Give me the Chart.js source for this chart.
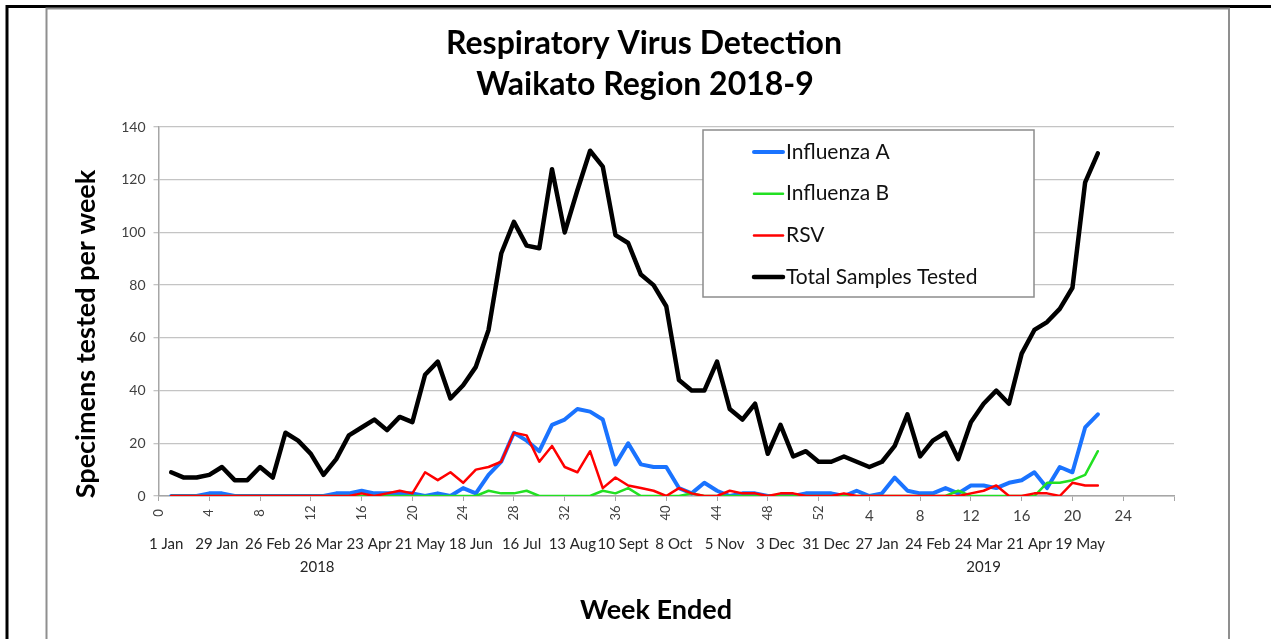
<!DOCTYPE html>
<html>
<head>
<meta charset="utf-8">
<script src="https://cdn.jsdelivr.net/npm/chart.js@4.4.1/dist/chart.umd.min.js"></script>
<style>
  html, body { margin: 0; padding: 0; background: #fff; }
  #chart { display: block; }
</style>
</head>
<body>
<canvas id="chart" width="1271" height="639"></canvas>
<script>
// weekly counts, week 1 2018 .. week 22 2019
const fluA = [0, 0, 0, 1, 1, 0, 0, 0, 0, 0, 0, 0, 0, 1, 1, 2, 1, 1, 1, 1,
  0, 1, 0, 3, 1, 8, 13, 24, 21, 17, 27, 29, 33, 32, 29, 12, 20, 12, 11, 11,
  3, 1, 5, 2, 0, 1, 1, 0, 0, 0, 1, 1,
  1, 0, 2, 0, 1, 7, 2, 1, 1, 3, 1, 4, 4, 3, 5, 6, 9, 3, 11, 9, 26, 31];
const fluB = [0, 0, 0, 0, 0, 0, 0, 0, 0, 0, 0, 0, 0, 0, 0, 0, 0, 0, 0, 0,
  0, 0, 0, 0, 0, 2, 1, 1, 2, 0, 0, 0, 0, 0, 2, 1, 3, 0, 0, 0,
  0, 1, 0, 0, 0, 0, 0, 0, 0, 0, 0, 0,
  0, 0, 0, 0, 0, 0, 0, 0, 0, 0, 2, 0, 0, 0, 0, 0, 0, 5, 5, 6, 8, 17];
const rsv = [0, 0, 0, 0, 0, 0, 0, 0, 0, 0, 0, 0, 0, 0, 0, 1, 0, 1, 2, 1,
  9, 6, 9, 5, 10, 11, 13, 24, 23, 13, 19, 11, 9, 17, 3, 7, 4, 3, 2, 0,
  3, 1, 0, 0, 2, 1, 1, 0, 1, 1, 0, 0,
  0, 1, 0, 0, 0, 0, 0, 0, 0, 0, 0, 1, 2, 4, 0, 0, 1, 1, 0, 5, 4, 4];
const total = [9, 7, 7, 8, 11, 6, 6, 11, 7, 24, 21, 16, 8, 14, 23, 26, 29, 25, 30, 28,
  46, 51, 37, 42, 49, 63, 92, 104, 95, 94, 124, 100, 116, 131, 125, 99, 96, 84, 80, 72,
  44, 40, 40, 51, 33, 29, 35, 16, 27, 15, 17, 13,
  13, 15, 13, 11, 13, 19, 31, 15, 21, 24, 14, 28, 35, 40, 35, 54, 63, 66, 71, 79, 119, 130];

const weeks = total.map((_, i) => i + 1);   // running week number
const weeksIn2018 = 52;
const dateLabels = ['1 Jan', '29 Jan', '26 Feb', '26 Mar', '23 Apr', '21 May', '18 Jun', '16 Jul',
  '13 Aug', '10 Sept', '8 Oct', '5 Nov', '3 Dec', '31 Dec', '27 Jan', '24 Feb', '24 Mar',
  '21 Apr', '19 May'];
const yearLabels = ['2018', '2019'];
const yearWeeks = [12.5, 65];

const FONT = 'Lato, Carlito, "DejaVu Sans", sans-serif';

function pts(vals) {
  return vals.map((v, i) => ({ x: weeks[i], y: v }));
}

function txt(ctx, s, x, y, font, color, align, rot) {
  ctx.save();
  ctx.font = font;
  ctx.fillStyle = color;
  ctx.textAlign = align || 'center';
  ctx.textBaseline = 'middle';
  ctx.translate(x, y);
  if (rot) ctx.rotate(rot);
  ctx.fillText(s, 0, 0);
  ctx.restore();
}

const decor = {
  id: 'decor',
  beforeDraw(chart) {
    const ctx = chart.ctx;
    ctx.save();
    ctx.fillStyle = '#fff';
    ctx.fillRect(0, 0, chart.width, chart.height);
    // outer frame
    ctx.strokeStyle = '#000';
    ctx.lineWidth = 3;
    ctx.beginPath();
    ctx.moveTo(7, 639); ctx.lineTo(7, 6.5); ctx.lineTo(1271, 6.5);
    ctx.stroke();
    // chart border
    ctx.strokeStyle = '#8f8f8f';
    ctx.lineWidth = 2;
    ctx.beginPath();
    ctx.moveTo(46.5, 639); ctx.lineTo(46.5, 8.5); ctx.lineTo(1229, 8.5); ctx.lineTo(1229, 639);
    ctx.stroke();
    ctx.restore();
  },
  afterDraw(chart) {
    const ctx = chart.ctx;
    const xs = chart.scales.x;
    const area = chart.chartArea;

    txt(ctx, 'Respiratory Virus Detection', 644, 44, 'bold 32px ' + FONT, '#000');
    txt(ctx, 'Waikato Region 2018-9', 645, 85, 'bold 32px ' + FONT, '#000');
    txt(ctx, 'Specimens tested per week', 86, 334, 'bold 27px ' + FONT, '#000', 'center', -Math.PI / 2);
    txt(ctx, 'Week Ended', 656, 610, 'bold 27px ' + FONT, '#000');

    // week numbers: 2018 ones rotated, 2019 ones flat
    xs.ticks.forEach(t => {
      if (t.value > 76) return;
      const px = xs.getPixelForValue(t.value);
      if (t.value <= weeksIn2018) {
        txt(ctx, String(t.value), px, 513, '13px ' + FONT, '#404040', 'center', -Math.PI / 2);
      } else {
        txt(ctx, String(t.value - weeksIn2018), px, 516, '15px ' + FONT, '#404040');
      }
    });
    dateLabels.forEach((d, i) => {
      txt(ctx, d, xs.getPixelForValue(i * 4 + 0.6), 544, '15px ' + FONT, '#262626');
    });
    yearLabels.forEach((y, i) => {
      txt(ctx, y, xs.getPixelForValue(yearWeeks[i]), 567, '15px ' + FONT, '#262626');
    });

    // legend
    ctx.save();
    ctx.fillStyle = '#fff';
    ctx.fillRect(703, 130, 331, 167);
    ctx.strokeStyle = '#8c8c8c';
    ctx.lineWidth = 1.5;
    ctx.strokeRect(703, 130, 331, 167);
    chart.data.datasets.forEach((ds, i) => {
      const y = 152 + i * 41.7;
      ctx.strokeStyle = ds.borderColor;
      ctx.lineWidth = ds.borderWidth;
      ctx.lineCap = 'round';
      ctx.beginPath();
      ctx.moveTo(754, y); ctx.lineTo(783, y);
      ctx.stroke();
      txt(ctx, ds.label, 786, y, '21px ' + FONT, '#111', 'left');
    });
    ctx.restore();
  }
};

const lineDs = (label, vals, color, width, order) => ({
  label: label,
  data: pts(vals),
  borderColor: color,
  borderWidth: width,
  pointRadius: 0,
  tension: 0,
  borderJoinStyle: 'round',
  borderCapStyle: 'round',
  order: order
});

new Chart(document.getElementById('chart').getContext('2d'), {
  type: 'line',
  data: {
    datasets: [
      lineDs('Influenza A', fluA, '#1a73ff', 4, 3),
      lineDs('Influenza B', fluB, '#22e022', 2.5, 2),
      lineDs('RSV', rsv, '#ff0000', 2.5, 1),
      lineDs('Total Samples Tested', total, '#000000', 4.5, 0)
    ]
  },
  options: {
    responsive: false,
    devicePixelRatio: 1,
    animation: false,
    layout: { padding: { top: 127, right: 97, left: 0, bottom: 0 } },
    plugins: { legend: { display: false }, tooltip: { enabled: false } },
    scales: {
      x: {
        type: 'linear',
        min: 0,
        max: 80,
        ticks: { display: false, stepSize: 4 },
        grid: { drawOnChartArea: false, drawTicks: true, tickLength: 5, color: '#a6a6a6' },
        border: { color: '#a6a6a6', width: 1.5 },
        afterFit(s) { s.height = 143; }
      },
      y: {
        min: 0,
        max: 140,
        ticks: { stepSize: 20, padding: 8, color: '#404040', font: { family: FONT, size: 14 } },
        grid: { color: '#c4c4c4', lineWidth: 1.3, tickLength: 5 },
        border: { color: '#a6a6a6', width: 1.5 },
        afterFit(s) { s.width = 158.5; }
      }
    }
  },
  plugins: [decor]
});
</script>
</body>
</html>
